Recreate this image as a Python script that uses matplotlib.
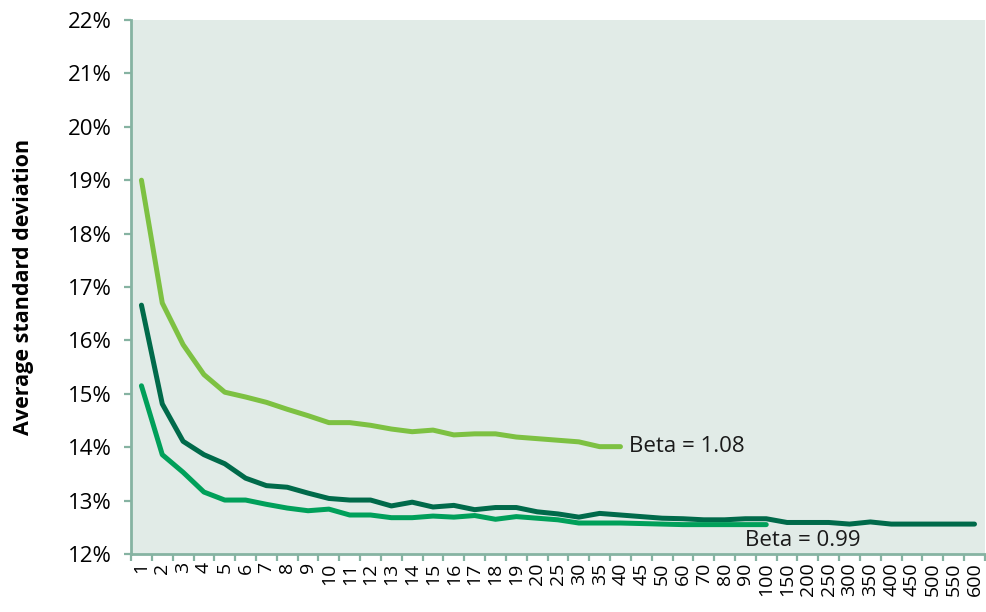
import matplotlib
matplotlib.use("Agg")
import matplotlib.pyplot as plt
from matplotlib.ticker import FixedLocator, FuncFormatter

plt.rcParams['font.family'] = ['Open Sans', 'DejaVu Sans']

categories = ["1", "2", "3", "4", "5", "6", "7", "8", "9", "10",
              "11", "12", "13", "14", "15", "16", "17", "18", "19", "20",
              "25", "30", "35", "40", "45", "50", "60", "70", "80", "90",
              "100", "150", "200", "250", "300", "350", "400", "450", "500", "550", "600"]

beta_108 = [19.00, 16.70, 15.92, 15.36, 15.03, 14.94, 14.84, 14.71, 14.59, 14.46,
            14.46, 14.41, 14.34, 14.29, 14.32, 14.23, 14.25, 14.25, 14.19, 14.16,
            14.13, 14.10, 14.01, 14.01]

beta_mid = [15.15, 13.86, 13.53, 13.16, 13.01, 13.01, 12.93, 12.86, 12.81, 12.84,
            12.73, 12.73, 12.68, 12.68, 12.71, 12.69, 12.72, 12.65, 12.70, 12.67,
            12.64, 12.58, 12.58, 12.58, 12.57, 12.56, 12.55, 12.55, 12.55, 12.55,
            12.55]

beta_099 = [16.66, 14.81, 14.11, 13.86, 13.69, 13.42, 13.28, 13.25, 13.14, 13.04,
            13.01, 13.01, 12.90, 12.97, 12.88, 12.91, 12.83, 12.87, 12.87, 12.79,
            12.75, 12.69, 12.76, 12.73, 12.70, 12.67, 12.66, 12.64, 12.64, 12.66,
            12.66, 12.59, 12.59, 12.59, 12.56, 12.60, 12.56, 12.56, 12.56, 12.56,
            12.56]

y_ticks = [12, 13, 14, 15, 16, 17, 18, 19, 20, 21, 22]

c_light = "#7dc142"
c_mid = "#00a05a"
c_dark = "#006a4a"
c_axis = "#86b3a2"

fig = plt.figure(figsize=(9.86, 6.12), dpi=100)
ax = fig.add_axes([0.1329, 0.0948, 0.866, 0.8725])
ax.set_facecolor("#e1ebe7")

x_all = list(range(len(categories)))
kw = dict(lw=3.6, solid_capstyle='round', solid_joinstyle='round')
ax.plot(x_all[:len(beta_108)], beta_108, color=c_light, **kw)
ax.plot(x_all[:len(beta_099)], beta_099, color=c_dark, **kw)
ax.plot(x_all[:len(beta_mid)], beta_mid, color=c_mid, **kw)

ax.set_xlim(-0.5, len(categories) - 0.5)
ax.set_ylim(12, 22)
ax.set_yticks(y_ticks)
ax.yaxis.set_major_formatter(FuncFormatter(lambda v, p: f"{v:.0f}%"))

ax.set_xticks(x_all)
ax.set_xticklabels(categories, rotation=90, fontsize=14)
ax.xaxis.set_minor_locator(FixedLocator([i - 0.5 for i in range(len(categories) + 1)]))
ax.tick_params(axis='x', which='major', length=0, pad=6)
ax.tick_params(axis='x', which='minor', length=5, width=1.6, color=c_axis)
ax.tick_params(axis='y', which='major', length=5, width=1.6, color=c_axis, labelsize=16, pad=9)

for s in ['top', 'right']:
    ax.spines[s].set_visible(False)
for s in ['left', 'bottom']:
    ax.spines[s].set_color(c_axis)
    ax.spines[s].set_linewidth(2)

ax.set_ylabel("Average standard deviation", fontsize=15.5, fontweight='bold')
ax.yaxis.set_label_coords(-0.114, 0.5)

ax.text(len(beta_108) - 1 + 0.4, beta_108[-1], "Beta = 1.08", fontsize=16,
        va='center', ha='left', color="#1a1a1a")
ax.text(29.0, 12.26, "Beta = 0.99", fontsize=16, va='center', ha='left', color="#1a1a1a")

fig.savefig("out.png", dpi=100)
